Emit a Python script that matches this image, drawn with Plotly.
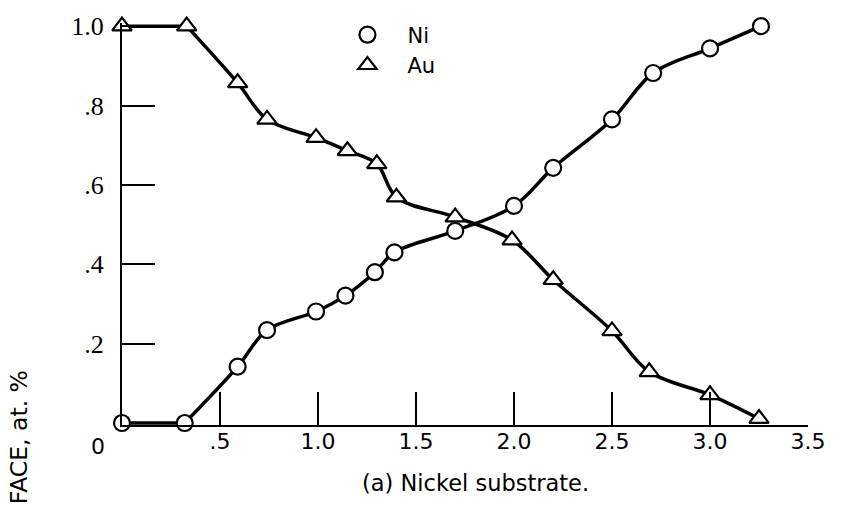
import plotly.graph_objects as go

# Data
ni_x = [0.0, 0.32, 0.59, 0.74, 0.99, 1.14, 1.29, 1.39, 1.70, 2.00, 2.20, 2.50, 2.71, 3.00, 3.26]
ni_y = [0.0, 0.0, 0.142, 0.234, 0.281, 0.321, 0.38, 0.43, 0.484, 0.547, 0.643, 0.765, 0.882, 0.944, 1.0]

au_x = [0.0, 0.33, 0.59, 0.74, 0.99, 1.15, 1.30, 1.40, 1.70, 1.99, 2.20, 2.50, 2.69, 3.00, 3.25]
au_y = [1.0, 1.0, 0.857, 0.765, 0.719, 0.686, 0.653, 0.569, 0.519, 0.461, 0.361, 0.232, 0.129, 0.071, 0.011]

x_tickvals = [0.5, 1.0, 1.5, 2.0, 2.5, 3.0, 3.5]
x_ticktext = [".5", "1.0", "1.5", "2.0", "2.5", "3.0", "3.5"]
y_tickvals = [0.2, 0.4, 0.6, 0.8, 1.0]
y_ticktext = [".2", ".4", ".6", ".8", "1.0"]

SANS = "DejaVu Sans, sans-serif"
SERIF = "Liberation Serif, DejaVu Serif, serif"
NB = "\u00a0"

# pixel geometry of the plot area
X0, X1 = 121.5, 807.7      # x = 0 and x = 3.5
Y0, Y1 = 422.7, 22.7       # y = 0 and y = 1.0
PX_Y = (Y0 - Y1) / 1.0
YLO, YHI = -0.005, 1.008   # small pad so lines on y=0 / y=1 are not clipped

top_px = Y1 - (YHI - 1.0) * PX_Y
bottom_px = Y0 + (0 - YLO) * PX_Y

def px(xp):
    return (xp - X0) / (X1 - X0)

def py(yp):
    return (bottom_px - yp) / (bottom_px - top_px)

fig = go.Figure()
spline = dict(color="black", width=3.5, shape="spline", smoothing=1.0)
straight = dict(color="black", width=3.5, shape="linear")
ni_marker = dict(symbol="circle", size=16, color="white", line=dict(color="black", width=2.2))
au_marker = dict(symbol="triangle-up", size=17, color="white", line=dict(color="black", width=2.2))

# flat leading segments (straight), then smooth curves
fig.add_trace(go.Scatter(x=ni_x[:2], y=ni_y[:2], mode="lines", line=straight,
                         showlegend=False, hoverinfo="skip"))
fig.add_trace(go.Scatter(x=au_x[:2], y=au_y[:2], mode="lines", line=straight,
                         showlegend=False, hoverinfo="skip"))
fig.add_trace(go.Scatter(x=ni_x[1:], y=ni_y[1:], mode="lines", line=spline,
                         showlegend=False, hoverinfo="skip"))
fig.add_trace(go.Scatter(x=au_x[1:], y=au_y[1:], mode="lines", line=spline,
                         showlegend=False, hoverinfo="skip"))
# data markers
fig.add_trace(go.Scatter(x=ni_x, y=ni_y, mode="markers", marker=ni_marker,
                         showlegend=False, cliponaxis=False))
fig.add_trace(go.Scatter(x=au_x, y=au_y, mode="markers", marker=au_marker,
                         showlegend=False, cliponaxis=False))
# legend entries (markers only)
fig.add_trace(go.Scatter(x=[None], y=[None], mode="markers", name=NB * 3 + "Ni", marker=ni_marker))
fig.add_trace(go.Scatter(x=[None], y=[None], mode="markers", name=NB * 3 + "Au", marker=au_marker))

fig.update_layout(
    width=843, height=509,
    margin=dict(l=X0, r=843 - X1, t=top_px, b=509 - bottom_px),
    paper_bgcolor="white", plot_bgcolor="white",
    showlegend=True,
    legend=dict(
        x=px(347), y=py(11), xanchor="left", yanchor="top",
        bgcolor="rgba(0,0,0,0)", borderwidth=0,
        font=dict(family=SANS, size=21, color="black"),
    ),
    xaxis=dict(
        range=[0, 3.5], showgrid=False, zeroline=False,
        showline=True, linecolor="black", linewidth=2,
        ticks="inside", ticklen=33, tickwidth=2, tickcolor="black",
        tickvals=x_tickvals, ticktext=x_ticktext,
        tickfont=dict(family=SANS, size=22, color="black"),
        ticklabelstandoff=-4,
    ),
    yaxis=dict(
        range=[YLO, YHI], showgrid=False, zeroline=False,
        showline=True, linecolor="black", linewidth=2,
        ticks="inside", ticklen=33, tickwidth=2, tickcolor="black",
        tickvals=y_tickvals, ticktext=y_ticktext,
        tickfont=dict(family=SERIF, size=26, color="black"),
        ticklabelstandoff=11,
    ),
)

# origin label
fig.add_annotation(text="0", xref="paper", yref="paper",
                   x=px(97), y=py(446),
                   showarrow=False, xanchor="center", yanchor="middle",
                   font=dict(family=SANS, size=22, color="black"))
# y-axis title (partially visible in the reference)
fig.add_annotation(text="FACE, at. %", xref="paper", yref="paper",
                   x=px(18), y=py(507),
                   showarrow=False, xanchor="center", yanchor="bottom",
                   textangle=-90,
                   font=dict(family=SANS, size=23.5, color="black"))
# caption
fig.add_annotation(text="(a) Nickel substrate.", xref="paper", yref="paper",
                   x=px(475), y=py(483),
                   showarrow=False, xanchor="center", yanchor="middle",
                   font=dict(family=SANS, size=22.5, color="black"))

fig.write_html("out.html",
               config={"displayModeBar": False},
               post_script="document.body.style.margin='0';document.body.style.overflow='hidden';")
